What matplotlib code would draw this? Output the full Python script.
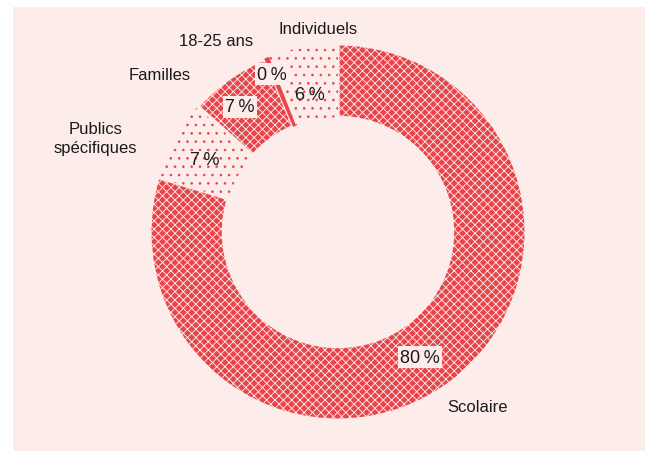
import matplotlib
matplotlib.use("Agg")
import matplotlib.pyplot as plt
from matplotlib.patches import Rectangle

categories = ["Scolaire", "Publics\nspécifiques", "Familles", "18-25 ans", "Individuels"]
values = [80, 7, 7, 0.4, 6]
pct_labels = ["80\u2009%", "7\u2009%", "7\u2009%", "0\u2009%", "6\u2009%"]
styles = ["dense", "dots", "dense", "solid", "dots"]

RED = "#E9444B"
PANEL = "#FCEDEA"

plt.rcParams['font.family'] = ['Liberation Sans', 'DejaVu Sans']
plt.rcParams['hatch.linewidth'] = 0.65

W, H = 645, 452
fig = plt.figure(figsize=(W / 100, H / 100), dpi=100)
fig.patches.append(Rectangle((13 / W, 0), 1 - 13 / W, (H - 8) / H,
                             transform=fig.transFigure, facecolor=PANEL,
                             edgecolor="none", zorder=-5))

cx, cy, r = 338, H - 233, 188
ax = fig.add_axes([(cx - r) / W, (cy - r) / H, 2 * r / W, 2 * r / H])
ax.set_zorder(1)

wedges, _ = ax.pie(values, startangle=90, counterclock=False, radius=1,
                   wedgeprops=dict(width=0.39))
ax.set_xlim(-1, 1)
ax.set_ylim(-1, 1)
ax.axis("off")
for w, s in zip(wedges, styles):
    if s == "dense":
        w.set_facecolor(RED)
        w.set_edgecolor(PANEL)
        w.set_hatch("xxxx")
        w.set_linewidth(2.2)
    elif s == "solid":
        w.set_facecolor(RED)
        w.set_edgecolor(RED)
        w.set_linewidth(0.5)
    else:
        w.set_facecolor(PANEL)
        w.set_edgecolor(RED)
        w.set_hatch("..")
        w.set_linewidth(0)

outer_pos = [(0.74, -0.93), (-1.29, 0.50), (-0.947, 0.84), (-0.65, 1.016), (-0.106, 1.08)]
inner_pos = [(0.436, -0.665), (-0.707, 0.388), (-0.52, 0.665), (-0.35, 0.84), (-0.149, 0.734)]

for name, (x, y) in zip(categories, outer_pos):
    ax.text(x, y, name, ha="center", va="center", fontsize=12,
            color="#1a1a1a", clip_on=False, linespacing=1.25)
for lab, (x, y), s in zip(pct_labels, inner_pos, styles):
    kw = {}
    if s != "dots":
        kw["bbox"] = dict(boxstyle="square,pad=0.12", facecolor=PANEL, edgecolor="none")
    ax.text(x, y, lab, ha="center", va="center", fontsize=13,
            color="#1a1a1a", clip_on=False, **kw)

fig.savefig("out.png", dpi=100)
